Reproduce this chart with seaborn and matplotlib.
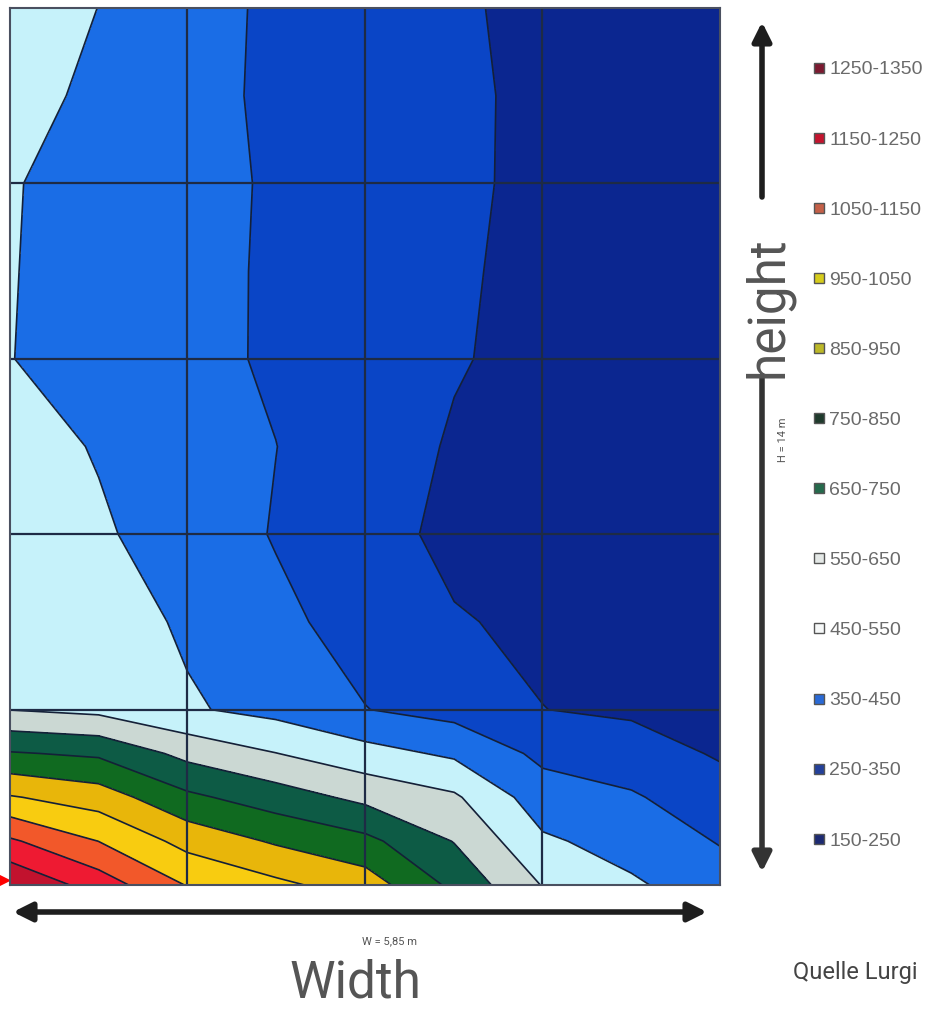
import numpy as np
import matplotlib
matplotlib.use("Agg")
import matplotlib.pyplot as plt
from matplotlib import font_manager
from matplotlib.lines import Line2D
import seaborn as sns

# grid node positions (m)
width_nodes = [0.0, 0.73, 1.46, 2.19, 2.93, 3.66, 4.39, 5.12, 5.85]
height_nodes = [0.0, 0.7, 1.4, 2.1, 2.8, 4.2, 5.6, 7.0, 8.4, 9.8, 11.2, 12.6, 14.0]

# temperature (deg C) at the nodes, bottom row first
temp_rows = [
    [1345, 1204, 1045, 973, 901, 726, 545, 464, 396],
    [1165, 1049, 917, 838, 776, 646, 465, 412, 344],
    [958, 902, 771, 699, 624, 565, 395, 361, 292],
    [758, 734, 621, 552, 486, 433, 327, 295, 240],
    [548, 525, 461, 420, 352, 315, 251, 235, 220],
    [540, 498, 436, 371, 314, 256, 235, 215, 195],
    [523, 463, 404, 344, 281, 230, 210, 192, 175],
    [490, 443, 397, 351, 296, 241, 215, 195, 175],
    [452, 414, 376, 338, 298, 257, 225, 198, 175],
    [454, 415, 377, 338, 300, 261, 228, 200, 178],
    [456, 417, 378, 340, 302, 265, 232, 205, 180],
    [483, 431, 375, 336, 300, 266, 232, 205, 180],
    [510, 449, 380, 336, 299, 262, 228, 200, 175],
]

levels = [150, 250, 350, 450, 550, 650, 750, 850, 950, 1050, 1150, 1250, 1350]
range_labels = ["150-250", "250-350", "350-450", "450-550", "550-650", "650-750",
                "750-850", "850-950", "950-1050", "1050-1150", "1150-1250", "1250-1350"]
fill_colors = ["#0b2690", "#0a45c6", "#1a6de6", "#c6f2fa", "#cbd8d3", "#0d5b45",
               "#106a20", "#e8b60a", "#f8cc10", "#f2582a", "#ee1a32", "#c2122e"]
legend_colors = ["#1c2a72", "#23409a", "#2a6ad6", "#f6f8f8", "#e4e8e6", "#256a4c",
                 "#1f3a2c", "#bcb828", "#d6cc1c", "#c46048", "#c4142e", "#7c1a30"]

W, H = 5.85, 14.0

sns.set_style("white")
names = {f.name for f in font_manager.fontManager.ttflist}
narrow = "Liberation Sans Narrow" if "Liberation Sans Narrow" in names else "Roboto"
plt.rcParams["font.family"] = ["Liberation Sans", "DejaVu Sans"]

fig = plt.figure(figsize=(9.29, 10.10), dpi=100)
ax = fig.add_axes([10 / 929, 1 - 885 / 1010, 710 / 929, 877 / 1010])

X, Y = np.meshgrid(width_nodes, height_nodes)
T = np.array(temp_rows, dtype=float)
ax.contourf(X, Y, T, levels=levels, colors=fill_colors)
ax.contour(X, Y, T, levels=levels[1:-1], colors="#142038", linewidths=1.2)

for xv in np.linspace(0, W, 5)[1:-1]:
    ax.axvline(xv, color="#1e2b45", lw=1.6)
for yv in np.linspace(0, H, 6)[1:-1]:
    ax.axhline(yv, color="#1e2b45", lw=1.6)

ax.set_xlim(0, W)
ax.set_ylim(0, H)
ax.set_xticks([])
ax.set_yticks([])
for s in ax.spines.values():
    s.set_color("#4a5060")
    s.set_linewidth(1.5)

# red marker at the bottom-left corner
ax.plot([-0.06], [0.08], marker=">", color="red", ms=9, clip_on=False)

# width arrow
ax.annotate("", xy=(707, 98), xytext=(13, 98), xycoords="figure pixels",
            arrowprops=dict(arrowstyle="<|-|>", lw=4, color="#1e1e1e",
                            mutation_scale=28, shrinkA=0, shrinkB=0))
fig.text(390 / 929, 1 - 941 / 1010, "W = 5,85 m", fontsize=8, color="#555555",
         ha="center", va="center", family=narrow)
fig.text(355 / 929, 1 - 984 / 1010, "Width", fontsize=37, color="#555555",
         ha="center", va="center", family=narrow)
fig.text(855 / 929, 1 - 972 / 1010, "Quelle Lurgi", fontsize=17, color="#444444",
         ha="center", va="center", family=narrow)

# height arrow (split by the label)
ax.annotate("", xy=(762, 1010 - 22), xytext=(762, 1010 - 197), xycoords="figure pixels",
            arrowprops=dict(arrowstyle="-|>", lw=4, color="#1e1e1e",
                            mutation_scale=28, shrinkA=0, shrinkB=0))
ax.annotate("", xy=(762, 1010 - 872), xytext=(762, 1010 - 376), xycoords="figure pixels",
            arrowprops=dict(arrowstyle="-|>", lw=4, color="#333333",
                            mutation_scale=28, shrinkA=0, shrinkB=0))
fig.text(768 / 929, 1 - 307 / 1010, "height", fontsize=37, color="#555555",
         rotation=90, ha="center", va="center", family=narrow)
fig.text(783 / 929, 1 - 440 / 1010, "H = 14 m", fontsize=8, color="#555555",
         rotation=90, ha="center", va="center", family=narrow)

# legend, hottest on top
handles = [Line2D([], [], marker="s", linestyle="", markersize=7,
                  markerfacecolor=c, markeredgecolor="#555555", markeredgewidth=1.0)
           for c in legend_colors[::-1]]
fig.legend(handles, range_labels[::-1], loc="upper left",
           bbox_to_anchor=(805 / 929, 1 - 53 / 1010), frameon=False,
           fontsize=14, labelcolor="#6a6a6a", handlelength=0.6,
           handletextpad=0.25, labelspacing=2.7, borderaxespad=0)

fig.savefig("out.png", dpi=100, facecolor="white")
